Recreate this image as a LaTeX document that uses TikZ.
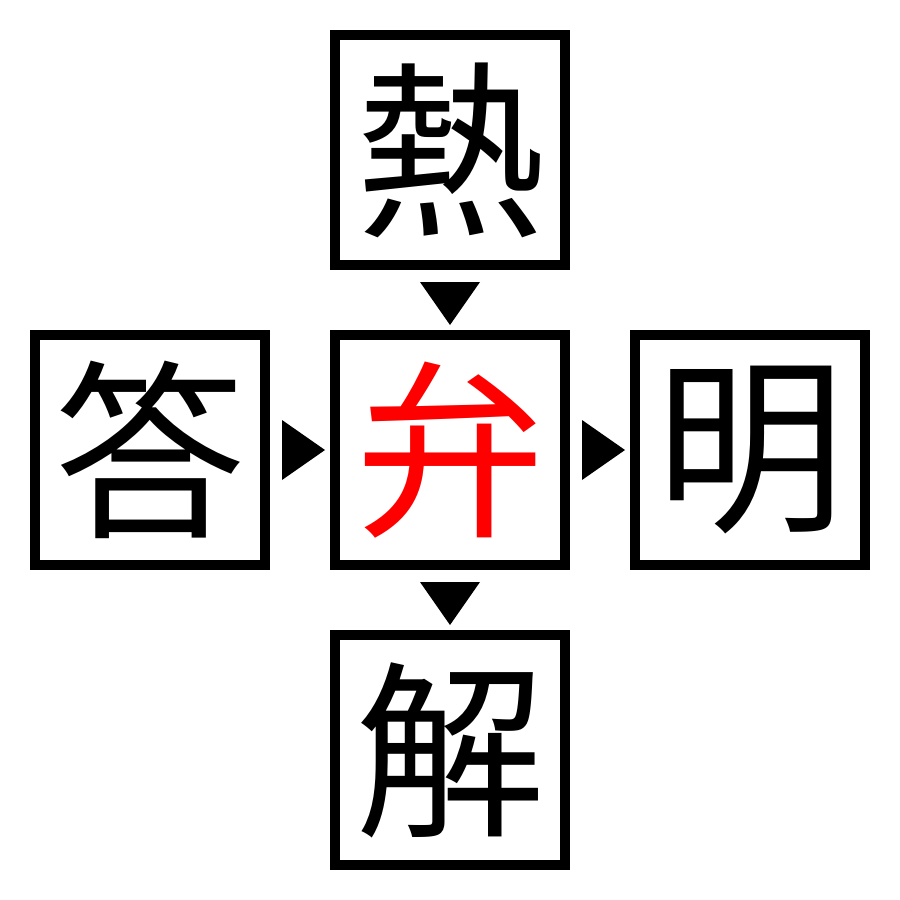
\documentclass[tikz,border=0pt]{standalone}
\usepackage{fontspec}
\newfontfamily\cjk{Noto Sans CJK JP}
\begin{document}
\begin{tikzpicture}[x=1pt,y=-1pt,
  charbox/.style={draw=black,line width=10pt,minimum size=230pt,inner sep=0pt,
    font=\cjk\fontsize{190}{190}\selectfont,text=black},
  marker/.style={fill=black,draw=none}]
\useasboundingbox (0,0) rectangle (900,900);
\fill[white] (0,0) rectangle (900,900);
\node[charbox] (top) at (450,150) {熱};
\node[charbox] (left) at (150,450) {答};
\node[charbox,text=red] (mid) at (450,450) {弁};
\node[charbox] (right) at (750,450) {明};
\node[charbox] (bot) at (450,750) {解};
% markers
\fill[marker] ([yshift=-12pt]top.south) ++(-30,0) -- ++(60,0) -- ([yshift=5pt]mid.north) -- cycle;
\fill[marker] ([yshift=-12pt]mid.south) ++(-30,0) -- ++(60,0) -- ([yshift=5pt]bot.north) -- cycle;
\fill[marker] ([xshift=12pt]left.east) ++(0,-30) -- ++(0,60) -- ([xshift=-5pt]mid.west) -- cycle;
\fill[marker] ([xshift=12pt]mid.east) ++(0,-30) -- ++(0,60) -- ([xshift=-5pt]right.west) -- cycle;
\end{tikzpicture}
\end{document}
